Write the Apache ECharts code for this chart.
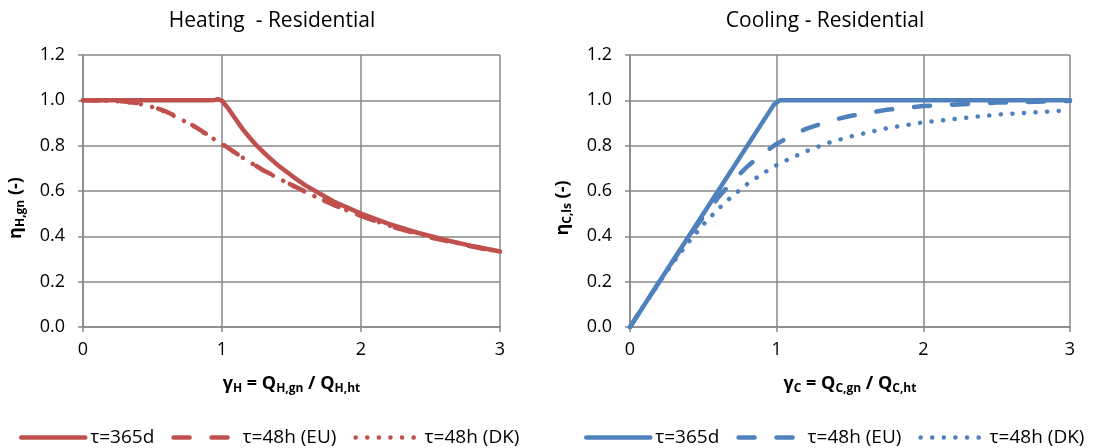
<!DOCTYPE html>
<html>
<head>
<meta charset="utf-8">
<script src="https://cdn.jsdelivr.net/npm/echarts@6/dist/echarts.min.js"></script>
<style>
  html, body { margin: 0; padding: 0; background: #fff; }
  #chart { width: 1095px; height: 448px; }
</style>
</head>
<body>
<div id="chart"></div>
<script>
// Utilisation factors of gains (heating) and losses (cooling), residential
const xTicks = [0, 1, 2, 3];
const yTicks = [0.0, 0.2, 0.4, 0.6, 0.8, 1.0, 1.2];

// Heating, tau = 365 d
const heatX365 = [0, 0.2, 0.4, 0.6, 0.8, 0.9, 0.95, 0.97, 1.0, 1.05, 1.1, 1.15, 1.2, 1.25, 1.3, 1.35, 1.4, 1.5, 1.6, 1.8, 2.0, 2.2, 2.4, 2.6, 2.8, 3.0];
const heat365  = [1.0, 1.0, 1.0, 1.0, 1.0, 1.0, 1.002, 1.005, 0.998, 0.96, 0.915, 0.872, 0.835, 0.8, 0.77, 0.742, 0.715, 0.668, 0.625, 0.555, 0.5, 0.455, 0.417, 0.385, 0.357, 0.333];

// Heating, tau = 48 h (EU and DK)
const heatX48 = [0, 0.2, 0.3, 0.4, 0.5, 0.6, 0.7, 0.8, 0.9, 1.0, 1.1, 1.2, 1.3, 1.4, 1.5, 1.6, 1.7, 1.8, 2.0, 2.2, 2.5, 2.8, 3.0];
const heat48EU = [1.0, 0.999, 0.995, 0.987, 0.972, 0.95, 0.92, 0.886, 0.847, 0.808, 0.767, 0.728, 0.69, 0.66, 0.627, 0.597, 0.568, 0.54, 0.49, 0.446, 0.395, 0.355, 0.331];
const heat48DK = [1.0, 0.998, 0.993, 0.985, 0.97, 0.948, 0.918, 0.884, 0.845, 0.806, 0.766, 0.727, 0.69, 0.658, 0.626, 0.596, 0.567, 0.539, 0.49, 0.448, 0.397, 0.356, 0.332];

// Cooling, tau = 365 d
const coolX365 = [0, 0.5, 0.98, 1.02, 1.1, 2.0, 3.0];
const cool365  = [0, 0.5, 0.98, 1.0, 1.0, 1.0, 1.0];

// Cooling, tau = 48 h (EU and DK)
const coolX48 = [0, 0.2, 0.3, 0.4, 0.5, 0.6, 0.7, 0.8, 0.9, 1.0, 1.1, 1.2, 1.35, 1.5, 1.75, 2.0, 2.5, 3.0];
const cool48EU = [0, 0.2, 0.298, 0.395, 0.486, 0.57, 0.644, 0.708, 0.763, 0.808, 0.844, 0.874, 0.907, 0.931, 0.958, 0.975, 0.99, 0.997];
const cool48DK = [0, 0.197, 0.29, 0.375, 0.452, 0.52, 0.579, 0.631, 0.675, 0.714, 0.746, 0.775, 0.812, 0.84, 0.877, 0.903, 0.937, 0.956];

const seriesNames = ['τ=365d', 'τ=48h (EU)', 'τ=48h (DK)'];
const RED = '#C0504D';
const BLUE = '#4F81BD';
const GRID = '#898989';
const FONT = '"Open Sans", "Noto Sans", sans-serif';
const LINE_W = 4.5;

const pairs = (xs, ys) => xs.map((x, i) => [x, ys[i]]);

const styles = [
  { type: 'solid' },
  { type: [16, 22] },
  { type: [0.1, 11.5] }
];

function lineSeries(name, idx, data, color, k, z) {
  return {
    type: 'line', name, xAxisIndex: k, yAxisIndex: k,
    data, symbol: 'none', showSymbol: false, smooth: false, z,
    animation: false,
    lineStyle: Object.assign({ color, width: LINE_W, cap: 'round', join: 'round' }, styles[idx]),
    itemStyle: { color }
  };
}

const subRich = {
  b: { fontFamily: FONT, fontWeight: 'bold', fontSize: 18, color: '#000' },
  s: { fontFamily: FONT, fontWeight: 'bold', fontSize: 12, color: '#000', padding: [10, 0, 0, 0] }
};

function xAxisFor(k, name) {
  return {
    type: 'value', gridIndex: k, min: xTicks[0], max: xTicks[xTicks.length - 1], interval: 1,
    axisLine: { show: true, lineStyle: { color: GRID, width: 1.5 } },
    axisTick: { show: true, length: 5, lineStyle: { color: GRID, width: 1.5 } },
    axisLabel: { color: '#000', fontFamily: FONT, fontSize: 18, margin: 14 },
    splitLine: { show: true, lineStyle: { color: GRID, width: 1.5 } },
    name, nameLocation: 'middle', nameGap: 46,
    nameTextStyle: { rich: subRich }
  };
}

function yAxisFor(k, name) {
  return {
    type: 'value', gridIndex: k, min: yTicks[0], max: yTicks[yTicks.length - 1], interval: 0.2,
    axisLine: { show: true, lineStyle: { color: GRID, width: 1.5 } },
    axisTick: { show: true, length: 5, lineStyle: { color: GRID, width: 1.5 } },
    axisLabel: { color: '#000', fontFamily: FONT, fontSize: 18, margin: 18,
                 formatter: v => v.toFixed(1) },
    splitLine: { show: true, lineStyle: { color: GRID, width: 1.5 } },
    name, nameLocation: 'middle', nameGap: 56, nameRotate: 90,
    nameTextStyle: { rich: subRich, padding: [0, 34, 0, 0] }
  };
}

// Cooling series carry a trailing space so the two legends stay separate
const coolNames = seriesNames.map(n => n + ' ');

function legendFor(names, left) {
  return {
    data: names, left, top: 423, itemWidth: 64, itemHeight: 14, itemGap: 17,
    itemStyle: { opacity: 0 },
    lineStyle: { width: 'inherit', type: 'inherit', cap: 'inherit' },
    textStyle: { fontFamily: FONT, fontSize: 19, color: '#000' },
    selectedMode: false,
    formatter: n => n.trim()
  };
}

const chart = echarts.init(document.getElementById('chart'), null, { renderer: 'canvas' });

chart.setOption({
  animation: false,
  backgroundColor: '#fff',
  title: [
    { text: 'Heating  - Residential', left: 267, top: 6, textAlign: 'center',
      textStyle: { fontFamily: FONT, fontSize: 21, fontWeight: 'normal', color: '#000' } },
    { text: 'Cooling - Residential', left: 820, top: 6, textAlign: 'center',
      textStyle: { fontFamily: FONT, fontSize: 21, fontWeight: 'normal', color: '#000' } }
  ],
  grid: [
    { left: 83, right: 595, top: 55, bottom: 121 },
    { left: 630, right: 25, top: 55, bottom: 121 }
  ],
  xAxis: [
    xAxisFor(0, '{b|γ}{s|H}{b| = Q}{s|H,gn}{b| / Q}{s|H,ht}'),
    xAxisFor(1, '{b|γ}{s|C}{b| = Q}{s|C,gn}{b| / Q}{s|C,ht}')
  ],
  yAxis: [
    yAxisFor(0, '{b|η}{s|H,gn}{b| (-)}'),
    yAxisFor(1, '{b|η}{s|C,ls}{b| (-)}')
  ],
  legend: [legendFor(seriesNames, 14), legendFor(coolNames, 579)],
  series: [
    lineSeries(seriesNames[1], 1, pairs(heatX48, heat48EU), RED, 0, 2),
    lineSeries(seriesNames[2], 2, pairs(heatX48, heat48DK), RED, 0, 2),
    lineSeries(seriesNames[0], 0, pairs(heatX365, heat365), RED, 0, 3),
    lineSeries(coolNames[1], 1, pairs(coolX48, cool48EU), BLUE, 1, 2),
    lineSeries(coolNames[2], 2, pairs(coolX48, cool48DK), BLUE, 1, 2),
    lineSeries(coolNames[0], 0, pairs(coolX365, cool365), BLUE, 1, 3)
  ]
});
</script>
</body>
</html>
